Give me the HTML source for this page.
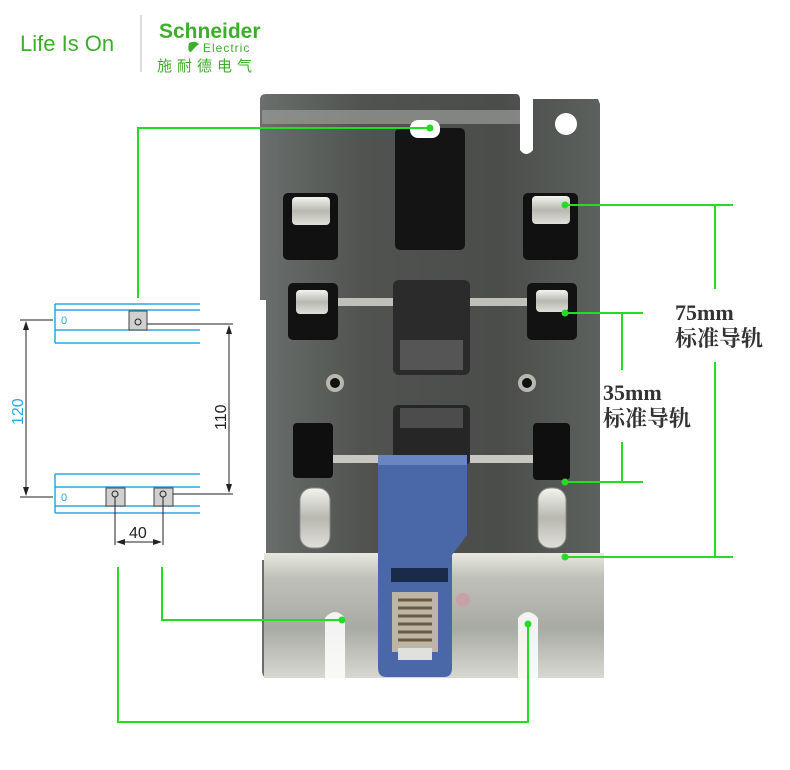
<!DOCTYPE html>
<html><head><meta charset="utf-8"><style>
html,body{margin:0;padding:0;background:#fff;width:790px;height:770px;overflow:hidden}
</style></head><body>
<svg width="790" height="770" viewBox="0 0 790 770" xmlns="http://www.w3.org/2000/svg">
<defs>
<linearGradient id="metal" x1="0" y1="0" x2="1" y2="0">
<stop offset="0" stop-color="#6a6e6c"/><stop offset="0.3" stop-color="#50534f"/><stop offset="0.7" stop-color="#4a4d4a"/><stop offset="1" stop-color="#5e625f"/>
</linearGradient>
<linearGradient id="band" x1="0" y1="0" x2="0" y2="1">
<stop offset="0" stop-color="#e8e8e0"/><stop offset="0.2" stop-color="#bfc0b8"/><stop offset="0.6" stop-color="#a8aaa4"/><stop offset="1" stop-color="#d8d8d2"/>
</linearGradient>
<linearGradient id="chrome" x1="0" y1="0" x2="0" y2="1">
<stop offset="0" stop-color="#f4f4f0"/><stop offset="0.5" stop-color="#b8b8b0"/><stop offset="1" stop-color="#e0e0da"/>
</linearGradient>
</defs>

<!-- logo -->
<text x="20" y="51" font-family="Liberation Sans, sans-serif" font-size="22" fill="#3dae2b">Life Is On</text>
<line x1="141" y1="15" x2="141" y2="72" stroke="#bbb" stroke-width="1"/>
<text x="159" y="38" font-family="Liberation Sans, sans-serif" font-size="21" font-weight="bold" fill="#3dae2b">Schneider</text>
<path d="M189 43 q6 -3 10 1 q-4 3 -8 8 q-4 0 -2 -9z" fill="#3dae2b"/>
<text x="203" y="52" font-family="Liberation Sans, sans-serif" font-size="12" fill="#3dae2b" letter-spacing="1">Electric</text>
<text x="157" y="71" font-family="'Liberation Sans','Noto Sans CJK SC',sans-serif" font-size="15" fill="#3dae2b" letter-spacing="5">施耐德电气</text>

<!-- plate -->
<path d="M260 100 Q260 94 266 94 L516 94 Q520 94 520 100 L520 150 Q526 158 533 150 L533 99 L598 99 L600 104 L600 560 L604 560 L604 670 Q604 678 596 678 L268 678 Q262 678 262 670 L262 560 L266 560 L266 300 L260 300 Z" fill="url(#metal)"/>
<rect x="262" y="110" width="258" height="14" fill="#9a9c98" opacity="0.7"/>
<rect x="264" y="553" width="340" height="125" fill="url(#band)"/>
<circle cx="566" cy="124" r="11" fill="#fff"/>
<rect x="283" y="193" width="55" height="67" rx="5" fill="#111"/>
<rect x="292" y="197" width="38" height="28" rx="4" fill="url(#chrome)"/>
<rect x="395" y="128" width="70" height="122" rx="5" fill="#141414"/>
<rect x="410" y="120" width="30" height="18" rx="8" fill="#fff"/>
<rect x="523" y="193" width="55" height="67" rx="5" fill="#111"/>
<rect x="532" y="196" width="38" height="28" rx="4" fill="url(#chrome)"/>
<rect x="288" y="283" width="50" height="57" rx="5" fill="#121212"/>
<rect x="296" y="290" width="32" height="24" rx="4" fill="url(#chrome)"/>
<rect x="338" y="298" width="55" height="8" fill="#bfc0ba"/>
<rect x="470" y="298" width="57" height="8" fill="#bfc0ba"/>
<rect x="393" y="280" width="77" height="95" rx="6" fill="#2b2b2b"/>
<rect x="400" y="340" width="63" height="30" fill="#555"/>
<rect x="527" y="283" width="50" height="57" rx="5" fill="#121212"/>
<rect x="536" y="290" width="32" height="22" rx="4" fill="url(#chrome)"/>
<circle cx="335" cy="383" r="9" fill="#b8b8ae"/><circle cx="335" cy="383" r="5" fill="#111"/>
<circle cx="527" cy="383" r="9" fill="#b8b8ae"/><circle cx="527" cy="383" r="5" fill="#111"/>
<rect x="393" y="405" width="77" height="60" rx="5" fill="#262626"/>
<rect x="400" y="408" width="63" height="20" fill="#4c4c4c"/>
<rect x="293" y="423" width="40" height="55" rx="4" fill="#0f0f0f"/>
<rect x="533" y="423" width="37" height="57" rx="4" fill="#0f0f0f"/>
<rect x="333" y="455" width="60" height="8" fill="#c8c8c2"/>
<rect x="470" y="455" width="63" height="8" fill="#c8c8c2"/>
<rect x="300" y="488" width="30" height="60" rx="12" fill="url(#chrome)" stroke="#888"/>
<rect x="538" y="488" width="28" height="60" rx="12" fill="url(#chrome)" stroke="#888"/>
<path d="M325 678 L325 618 Q335 606 345 618 L345 678 Z" fill="#fff" opacity="0.85"/>
<path d="M518 678 L518 618 Q528 606 538 618 L538 678 Z" fill="#fff" opacity="0.85"/>
<circle cx="463" cy="600" r="7" fill="#c8a0a8"/>
<path d="M378 455 L467 455 L467 535 L452 555 L452 668 Q452 677 444 677 L386 677 Q378 677 378 668 Z" fill="#4a68a8"/>
<rect x="378" y="455" width="89" height="10" fill="#6a86c2"/>
<rect x="391" y="568" width="57" height="14" fill="#1a2a4a"/>
<rect x="392" y="592" width="46" height="60" fill="#bdb6a6"/>
<path d="M398 600 h34 M398 608 h34 M398 616 h34 M398 624 h34 M398 632 h34 M398 640 h34" stroke="#6a5a40" stroke-width="3"/>
<rect x="398" y="648" width="34" height="12" fill="#e0e0dc"/>

<g stroke="#22dd22" stroke-width="2" fill="none">
<path d="M430 128 H138 V298"/>
<path d="M565 205 H733 M565 557 H733 M715 205 V289 M715 362 V557"/>
<path d="M565 313 H643 M565 482 H643 M622 313 V370 M622 442 V482"/>
<path d="M162 567 V620 H342"/>
<path d="M118 567 V722 H528 V624"/>
</g>
<g fill="#22dd22">
<circle cx="430" cy="128" r="3.5"/><circle cx="565" cy="205" r="3.5"/><circle cx="565" cy="313" r="3.5"/>
<circle cx="565" cy="482" r="3.5"/><circle cx="565" cy="557" r="3.5"/><circle cx="342" cy="620" r="3.5"/><circle cx="528" cy="624" r="3.5"/>
</g>
<g font-family="'Liberation Serif','Noto Serif CJK SC',serif" font-weight="bold" font-size="22" fill="#333">
<text x="675" y="320">75mm</text>
<text x="675" y="346">标准导轨</text>
<text x="603" y="400">35mm</text>
<text x="603" y="426">标准导轨</text>
</g>

<g stroke="#29a8e0" stroke-width="1.5" fill="none">
<path d="M55 304 H200 M55 310 H200 M55 330 H200 M55 343 H200 M55 304 V343"/>
<path d="M55 474 H200 M55 487 H200 M55 506 H200 M55 513 H200 M55 474 V513"/>
</g>
<text x="61" y="324" font-family="Liberation Sans,sans-serif" font-size="11" fill="#29a8e0">0</text>
<text x="61" y="501" font-family="Liberation Sans,sans-serif" font-size="11" fill="#29a8e0">0</text>
<g fill="#d0d0d0" stroke="#444" stroke-width="1">
<rect x="129" y="311" width="18" height="19"/>
<rect x="106" y="488" width="19" height="18"/>
<rect x="154" y="488" width="19" height="18"/>
</g>
<g stroke="#222" stroke-width="1" fill="none">
<circle cx="138" cy="322" r="3"/><circle cx="115" cy="494" r="3"/><circle cx="163" cy="494" r="3"/>
<path d="M20 320 H53 M20 497 H53 M26 322 V495"/>
<path d="M147 324 H233 M173 494 H233 M229 326 V492"/>
<path d="M115 497 V545 M163 497 V545 M118 542 H160"/>
</g>
<g fill="#222">
<path d="M26 321 l-3 9 h6z M26 496 l-3 -9 h6z"/>
<path d="M229 325 l-3 9 h6z M229 493 l-3 -9 h6z"/>
<path d="M116 542 l9 -3 v6z M162 542 l-9 -3 v6z"/>
</g>
<text transform="translate(23 425) rotate(-90)" font-family="Liberation Sans,sans-serif" font-size="16" fill="#29a8e0">120</text>
<text transform="translate(226 430) rotate(-90)" font-family="Liberation Sans,sans-serif" font-size="16" fill="#222">110</text>
<text x="129" y="538" font-family="Liberation Sans,sans-serif" font-size="16" fill="#222">40</text>
</svg>
</body></html>
